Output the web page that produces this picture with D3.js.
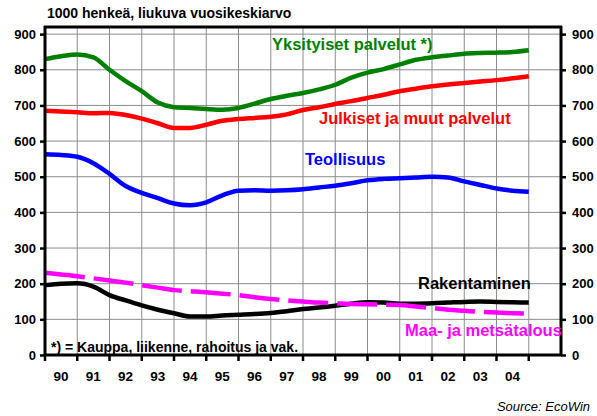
<!DOCTYPE html>
<html><head><meta charset="utf-8">
<script src="https://cdn.jsdelivr.net/npm/d3@7"></script>
<style>
body{margin:0;background:#fff;}
svg{display:block;font-family:"Liberation Sans",Arial,sans-serif;}
</style></head>
<body><svg id="c" width="597" height="416"></svg>
<script>
// half-year time points 1990.0 ... 2005.0
const times = d3.range(0, 31).map(i => 1990 + i * 0.5);
const yksityiset = [830,838,843,835,800,768,740,708,695,693,690,688,693,705,718,727,735,745,758,778,792,802,815,828,835,840,845,847,848,850,855];
const julkiset   = [685,683,681,678,679,673,663,650,637,637,646,657,662,665,668,675,687,695,704,712,721,730,740,747,754,759,763,767,771,776,782];
const teollisuus = [563,561,556,538,508,474,455,440,425,420,428,448,461,462,461,462,465,470,475,482,490,494,496,498,500,498,487,477,467,461,458];
const rakentaminen = [196,200,201,192,168,153,139,127,117,108,108,111,113,115,118,123,129,133,138,144,148,147,144,144,145,147,149,150,149,148,147];
const maatalous  = [231,226,221,215,209,203,196,189,182,179,176,172,168,162,157,153,150,147,145,143,142,141,140,136,132,127,124,121,119,117,116];
const yearLabels = ["90","91","92","93","94","95","96","97","98","99","00","01","02","03","04"];
const yTicks = [0,100,200,300,400,500,600,700,800,900];

const svg = d3.select("#c");
const x = d3.scaleLinear().domain([1990, 2006]).range([45, 561]);
const y = d3.scaleLinear().domain([0, 920]).range([355, 27]);

// grid
const g = svg.append("g");
g.selectAll("line.h").data(yTicks.slice(1)).join("line")
  .attr("x1", x(1990)).attr("x2", x(2006))
  .attr("y1", d => y(d)).attr("y2", d => y(d))
  .attr("stroke", "#8c8c8c").attr("stroke-width", 1);
g.selectAll("line.v").data(d3.range(1991, 2006)).join("line")
  .attr("x1", d => x(d)).attr("x2", d => x(d))
  .attr("y1", y(0)).attr("y2", y(920))
  .attr("stroke", "#8c8c8c").attr("stroke-width", 1);

// series
const series = [
  {vals: yksityiset, color: "#008000", dash: null},
  {vals: julkiset, color: "#ff0000", dash: null},
  {vals: teollisuus, color: "#0000ff", dash: null},
  {vals: rakentaminen, color: "#000000", dash: null},
  {vals: maatalous, color: "#ff00ff", dash: "40,9"}
];
const line = d3.line().x((d, i) => x(times[i])).y(d => y(d)).curve(d3.curveMonotoneX);
series.forEach(s => {
  svg.append("path").datum(s.vals).attr("d", line)
    .attr("fill", "none").attr("stroke", s.color).attr("stroke-width", 4.5)
    .attr("stroke-linejoin", "round").attr("stroke-linecap", "butt")
    .attr("stroke-dasharray", s.dash);
});

// frame
const frame = svg.append("g").attr("stroke", "#000").attr("stroke-width", 3);
frame.append("line").attr("x1", x(1990)).attr("x2", x(1990)).attr("y1", y(920) - 1).attr("y2", y(0) + 1);
frame.append("line").attr("x1", x(2006)).attr("x2", x(2006)).attr("y1", y(920) - 1).attr("y2", y(0) + 1);
frame.append("line").attr("x1", x(1990) - 1).attr("x2", x(2006) + 1).attr("y1", y(0)).attr("y2", y(0));
frame.append("line").attr("x1", x(1990) - 1).attr("x2", x(2006) + 1).attr("y1", y(920)).attr("y2", y(920));

// axes
const leftAxis = d3.axisLeft(y).tickValues(yTicks).tickSize(5).tickPadding(4);
const rightAxis = d3.axisRight(y).tickValues(yTicks).tickSize(5).tickPadding(6);
const la = svg.append("g").attr("transform", `translate(${x(1990)},0)`).call(leftAxis);
const ra = svg.append("g").attr("transform", `translate(${x(2006)},0)`).call(rightAxis);
[la, ra].forEach(a => {
  a.select(".domain").remove();
  a.selectAll(".tick line").attr("stroke", "#000").attr("stroke-width", 2.5);
  a.selectAll(".tick text").attr("font-size", 13).attr("font-weight", "bold").attr("fill", "#000");
});
const bottomAxis = d3.axisBottom(x).tickValues(d3.range(1990, 2005)).tickSize(0).tickFormat("");
svg.append("g").attr("transform", `translate(0,${y(0)})`).call(bottomAxis).select(".domain").remove();
svg.append("g").selectAll("line").data(d3.range(1990, 2006)).join("line")
  .attr("x1", d => x(d)).attr("x2", d => x(d)).attr("y1", y(0)).attr("y2", y(0) + 6)
  .attr("stroke", "#000").attr("stroke-width", 2.5);
svg.append("g").selectAll("text").data(yearLabels).join("text")
  .attr("x", (d, i) => x(1990 + i + 0.5)).attr("y", 381)
  .attr("text-anchor", "middle").attr("font-size", 13.5).attr("font-weight", "bold").text(d => d);

// labels
const labels = [
  {t: "Yksityiset palvelut *)", x: 272, y: 50, c: "#008000"},
  {t: "Julkiset ja muut palvelut", x: 319, y: 124, c: "#ff0000"},
  {t: "Teollisuus", x: 305, y: 165, c: "#0000ff"},
  {t: "Rakentaminen", x: 418, y: 289, c: "#000000"},
  {t: "Maa- ja metsätalous", x: 405, y: 336, c: "#ff00ff"}
];
svg.append("g").selectAll("text").data(labels).join("text")
  .attr("x", d => d.x).attr("y", d => d.y).attr("fill", d => d.c)
  .attr("font-size", 16.5).attr("font-weight", "bold").text(d => d.t);

svg.append("text").attr("x", 51).attr("y", 352).attr("font-size", 14).attr("font-weight", "bold")
  .text("*) = Kauppa, liikenne, rahoitus ja vak.");
svg.append("text").attr("x", 47).attr("y", 18).attr("font-size", 14).attr("font-weight", "bold")
  .text("1000 henkeä, liukuva vuosikeskiarvo");
svg.append("text").attr("x", 590).attr("y", 411).attr("text-anchor", "end").attr("font-size", 13)
  .attr("font-style", "italic").text("Source: EcoWin");
</script></body></html>
